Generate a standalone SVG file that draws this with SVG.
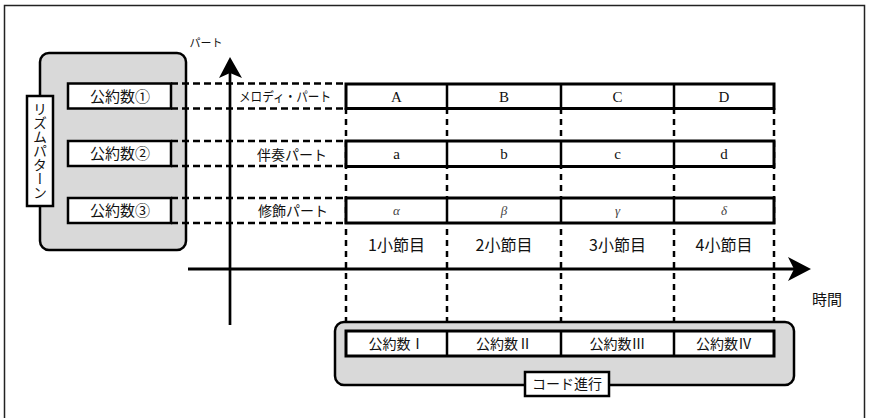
<svg xmlns="http://www.w3.org/2000/svg" width="869" height="418" viewBox="0 0 869 418">
<style>
.frame{fill:none;stroke:#222;stroke-width:1.5}
.grp{fill:#d9d9d9;stroke:#000;stroke-width:2.5}
.box{fill:#fff;stroke:#000;stroke-width:2.5}
.row{fill:#fff;stroke:#000;stroke-width:3}
.div{stroke:#000;stroke-width:2.5}
.dash{stroke:#000;stroke-width:2.5;stroke-dasharray:7 4;fill:none}
.vdash{stroke:#000;stroke-width:2.5;stroke-dasharray:6 5;fill:none}
.axis{stroke:#000;stroke-width:2.7;fill:none}
.jp{font-family:"Noto Sans CJK JP","Noto Sans",sans-serif;fill:#111}
.lat{font-family:"Liberation Serif",serif;fill:#111;font-size:15px}
.gr{font-family:"Liberation Serif",serif;fill:#444;font-size:13px;font-style:italic}
</style>
<rect class="frame" x="4.5" y="5.5" width="860" height="430"/>

<g id="rhythm-pattern">
<rect class="grp" x="40" y="53" width="146" height="197" rx="9"/>
<rect class="box" x="27" y="96" width="26" height="110"/>
<text class="jp" x="40" y="151" font-size="14" style="writing-mode:vertical-rl" text-anchor="middle" dominant-baseline="central">リズムパターン</text>
</g>

<g id="kouyakusu1">
<rect class="box" x="68" y="83.5" width="103" height="25"/>
<text class="jp" x="120" y="101.5" font-size="15" text-anchor="middle">公約数①</text>
</g>
<g id="kouyakusu2">
<rect class="box" x="68" y="141" width="103" height="25"/>
<text class="jp" x="120" y="159" font-size="15" text-anchor="middle">公約数②</text>
</g>
<g id="kouyakusu3">
<rect class="box" x="68" y="198" width="103" height="25"/>
<text class="jp" x="120" y="216" font-size="15" text-anchor="middle">公約数③</text>
</g>

<g id="connectors">
<path class="dash" d="M171 83.5H346M171 108.5H346M171 141H346M171 166H346M171 198H346M171 223H346"/>
<path class="vdash" d="M346 108V331M447 108V331M561 108V331M674 108V331M774 108V331"/>
</g>

<g id="axes">
<line class="axis" x1="230" y1="72" x2="230" y2="325"/>
<path d="M230 57L242 78L230 73L219 78Z" fill="#000"/>
<line class="axis" x1="188" y1="269" x2="795" y2="269" style="stroke-width:3"/>
<path d="M811 269L788 257L794 269L788 281Z" fill="#000"/>
<text class="jp" x="206" y="47" font-size="11" text-anchor="middle">パート</text>
<text class="jp" x="827" y="305" font-size="15" text-anchor="middle">時間</text>
</g>

<g id="part-labels">
<text class="jp" x="285" y="101" font-size="13" text-anchor="middle" textLength="92" lengthAdjust="spacingAndGlyphs">メロディ・パート</text>
<text class="jp" x="292" y="160" font-size="14" text-anchor="middle">伴奏パート</text>
<text class="jp" x="293" y="216" font-size="14" text-anchor="middle">修飾パート</text>
</g>

<g id="melody-row">
<rect class="row" x="346" y="84" width="428" height="24.5"/>
<path class="div" d="M447 84V108.5M561 84V108.5M674 84V108.5"/>
<text class="lat" x="396.5" y="101.5" text-anchor="middle">A</text>
<text class="lat" x="504" y="101.5" text-anchor="middle">B</text>
<text class="lat" x="617.5" y="101.5" text-anchor="middle">C</text>
<text class="lat" x="724" y="101.5" text-anchor="middle">D</text>
</g>
<g id="accomp-row">
<rect class="row" x="346" y="141" width="428" height="25.5"/>
<path class="div" d="M447 141V166.5M561 141V166.5M674 141V166.5"/>
<text class="lat" x="396.5" y="159" text-anchor="middle">a</text>
<text class="lat" x="504" y="159" text-anchor="middle">b</text>
<text class="lat" x="617.5" y="159" text-anchor="middle">c</text>
<text class="lat" x="724" y="159" text-anchor="middle">d</text>
</g>
<g id="ornament-row">
<rect class="row" x="346" y="198" width="428" height="25"/>
<path class="div" d="M447 198V223M561 198V223M674 198V223"/>
<text class="gr" x="396.5" y="215" text-anchor="middle">α</text>
<text class="gr" x="504" y="215" text-anchor="middle">β</text>
<text class="gr" x="617.5" y="215" text-anchor="middle">γ</text>
<text class="gr" x="724" y="215" text-anchor="middle">δ</text>
</g>

<g id="measures">
<text class="jp" x="396.5" y="251" font-size="16" text-anchor="middle">1小節目</text>
<text class="jp" x="504" y="251" font-size="16" text-anchor="middle">2小節目</text>
<text class="jp" x="617.5" y="251" font-size="16" text-anchor="middle">3小節目</text>
<text class="jp" x="724" y="251" font-size="16" text-anchor="middle">4小節目</text>
</g>

<g id="chord-progression">
<rect class="grp" x="335" y="322" width="459" height="63" rx="9"/>
<rect class="row" x="346" y="331" width="428" height="25"/>
<path class="div" d="M447 331V356M561 331V356M674 331V356"/>
<text class="jp" x="396.5" y="349" font-size="14" text-anchor="middle">公約数Ⅰ</text>
<text class="jp" x="504" y="349" font-size="14" text-anchor="middle">公約数Ⅱ</text>
<text class="jp" x="617.5" y="349" font-size="14" text-anchor="middle">公約数Ⅲ</text>
<text class="jp" x="724" y="349" font-size="14" text-anchor="middle">公約数Ⅳ</text>
<rect class="box" x="525" y="372" width="84" height="24"/>
<text class="jp" x="567" y="389" font-size="14" text-anchor="middle">コード進行</text>
</g>
</svg>
